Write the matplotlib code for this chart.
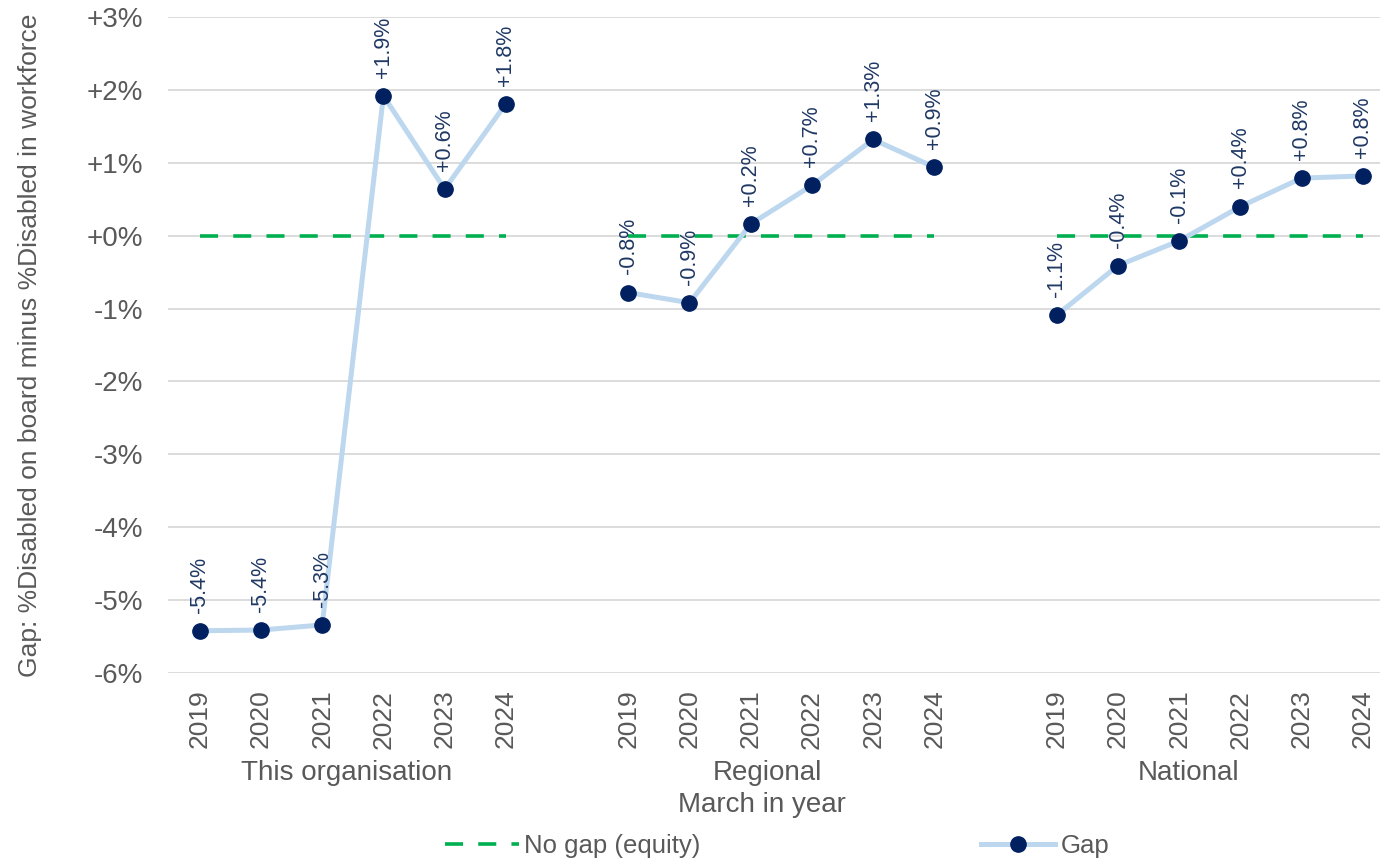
import matplotlib
matplotlib.use("Agg")
import matplotlib.pyplot as plt
import matplotlib.transforms as mtransforms
from matplotlib.lines import Line2D

plt.rcParams['font.family'] = ['Liberation Sans', 'DejaVu Sans']

# gap = %disabled on board minus %disabled in workforce, March of each year
years = ["2019", "2020", "2021", "2022", "2023", "2024"]
groups = ["This organisation", "Regional", "National"]
gap_org = [-5.42, -5.41, -5.34, 1.92, 0.64, 1.81]
gap_regional = [-0.78, -0.92, 0.16, 0.69, 1.32, 0.94]
gap_national = [-1.09, -0.41, -0.07, 0.40, 0.79, 0.82]
yticks = [-6, -5, -4, -3, -2, -1, 0, 1, 2, 3]

series = [gap_org, gap_regional, gap_national]
slot = len(years) + 1  # one empty category between groups

navy = "#002060"
label_col = "#1F3864"
light_blue = "#BDD7EE"
green = "#00B050"
grey_txt = "#595959"

fig = plt.figure(figsize=(13.8, 8.6), dpi=100)
ax = fig.add_axes([0.1217, 0.2174, 0.8783, 0.7628])

xticks = []
xlabels = []
for g, vals in enumerate(series):
    xs = [g * slot + i for i in range(len(years))]
    xticks += xs
    xlabels += years
    # equity reference line for this group
    ax.plot([xs[0], xs[-1]], [0, 0], color=green, lw=2.6,
            dashes=(5, 4.2), zorder=2)
    ax.plot(xs, vals, color=light_blue, lw=3.6, zorder=3)
    ax.plot(xs, vals, 'o', color=navy, ms=11, zorder=4)
    for x, v in zip(xs, vals):
        ax.annotate(f"{v:+.1f}%", xy=(x, v), xytext=(0, 13),
                    textcoords='offset points', rotation=90,
                    ha='center', va='bottom', fontsize=15.5, color=label_col,
                    zorder=5)

ax.set_xlim(-0.52, 19.28)
ax.set_ylim(-6, 3)
ax.set_yticks(yticks)
ax.set_yticklabels([f"{t:+d}%" for t in yticks])
ax.set_xticks(xticks)
ax.set_xticklabels(xlabels, rotation=90)
ax.tick_params(axis='y', length=0, pad=18, labelsize=20, labelcolor=grey_txt)
ax.tick_params(axis='x', length=0, pad=12, labelsize=19, labelcolor=grey_txt)
ax.grid(axis='y', color="#D9D9D9", lw=1.3, zorder=0)
ax.set_axisbelow(True)
for s in ax.spines.values():
    s.set_visible(False)

ax.set_ylabel("Gap: %Disabled on board minus %Disabled in workforce",
              fontsize=19, color=grey_txt)
ax.yaxis.set_label_coords(-0.104, 0.5)

# group names under the year labels
trans = mtransforms.blended_transform_factory(ax.transData, fig.transFigure)
group_x = [2.4, 9.28, 16.15]
for gx, name in zip(group_x, groups):
    ax.text(gx, 0.101, name, transform=trans, ha='center', va='center',
            fontsize=20, color=grey_txt)
fig.text(762 / 1380, 1 - 805 / 860, "March in year", ha='center', va='center',
         fontsize=20, color=grey_txt)

handles = [
    Line2D([], [], color=green, lw=2.6, dashes=(5, 4.2)),
    Line2D([], [], color=light_blue, lw=3.6, marker='o', ms=11,
           markerfacecolor=navy, markeredgecolor=navy),
]
leg = fig.legend(handles, ["No gap (equity)", "Gap"], loc='center',
                 bbox_to_anchor=(0.563, 0.016), ncol=2, frameon=False,
                 fontsize=18.5, handlelength=2.9, handletextpad=0.2,
                 columnspacing=10.9)
for t in leg.get_texts():
    t.set_color(grey_txt)

fig.savefig("out.png", dpi=100)
